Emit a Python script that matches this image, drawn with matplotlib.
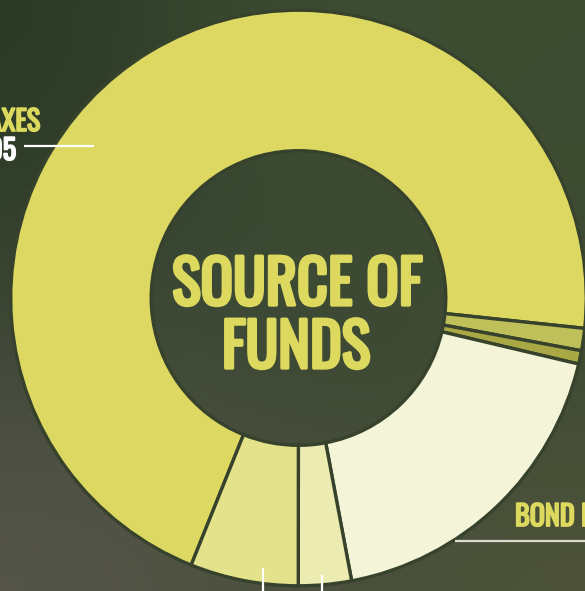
import matplotlib
matplotlib.use("Agg")
import matplotlib.pyplot as plt
import matplotlib.patheffects as pe
import numpy as np
from matplotlib.colors import to_rgb

# ---- data (percent share of funds) ----
categories = ["Taxes", "Other A", "Other B", "Bond Proceeds", "Other C", "Other D"]
shares = [70.6, 1.25, 0.75, 18.36, 2.97, 6.07]
colors = ["#dcd862", "#bfc05a", "#a9a844", "#f4f5d8", "#ecebb1", "#e4e28a"]
taxes_label = "TAXES"
taxes_value = "$2,105"
bond_label = "BOND PROCEEDS"
title_lines = ["SOURCE OF", "FUNDS"]

W, H = 585, 591
fig = plt.figure(figsize=(W / 100, H / 100), dpi=100)
ax = fig.add_axes([0, 0, 1, 1])
ax.set_axis_off()

# background approximating the dark green photo
grid = [["#2d3a26", "#384830", "#3e4e33", "#3c4c31"],
        ["#313f2b", "#3a4934", "#3d4a33", "#3e4b32"],
        ["#454a3c", "#3f4a35", "#3c4833", "#404b35"],
        ["#55554a", "#4f5242", "#4a4f3c", "#4d5239"]]
bg = np.array([[to_rgb(c) for c in row] for row in grid])
ax.imshow(bg, extent=(0, W, 0, H), interpolation="bicubic", zorder=0, aspect="auto")

cx, cy = 298.5, H - 298
ax.pie(shares, colors=colors, center=(cx, cy), radius=287.8,
       startangle=248.1, counterclock=False,
       wedgeprops=dict(width=140.5, edgecolor="#36422b", linewidth=2.4, zorder=2))

ax.set_xlim(0, W)
ax.set_ylim(0, H)
ax.set_aspect("auto")

fam = ["Oswald", "DejaVu Sans"]
yellow = "#dcd95e"

# fit font size so that "SOURCE OF" is ~254 px wide
probe = fig.text(0, 0, title_lines[0], fontsize=40, family=fam)
fig.canvas.draw()
w40 = probe.get_window_extent().width
probe.remove()
fs_title = 40 * 250 / w40
fs_label = fs_title * 22 / 47

def thick(color, w):
    return [pe.withStroke(linewidth=w, foreground=color)]

ax.text(297, H - 305, title_lines[0], ha="center", va="baseline", color=yellow,
        fontsize=fs_title, family=fam, zorder=5, path_effects=thick(yellow, 2.4))
ax.text(296, H - 368, title_lines[1], ha="center", va="baseline", color=yellow,
        fontsize=fs_title, family=fam, zorder=5, path_effects=thick(yellow, 2.4))

# Taxes label (cropped at the left edge as in the reference)
ax.text(40, H - 131, taxes_label, ha="right", va="baseline", color=yellow,
        fontsize=fs_label, family=fam, zorder=5, path_effects=thick(yellow, 1.3))
ax.text(16, H - 160, taxes_value, ha="right", va="baseline", color="white",
        fontsize=fs_label, family=fam, zorder=5, path_effects=thick("white", 1.3))
ax.plot([24, 94], [H - 146, H - 146], color="white", lw=1.6, zorder=5,
        solid_capstyle="butt")

# Bond label (cropped at the right edge as in the reference)
ax.text(515, H - 526, bond_label, ha="left", va="baseline", color=yellow,
        fontsize=fs_label, family=fam, zorder=5, path_effects=thick(yellow, 1.3))
ax.plot([455, 585], [H - 541, H - 541], color="#dcdcd2", lw=1.6, zorder=5,
        solid_capstyle="butt")

# leader lines going down to labels outside the frame
ax.plot([263, 263], [H - 568, 0], color="white", lw=1.6, zorder=5, solid_capstyle="butt")
ax.plot([322, 322], [H - 575, 0], color="white", lw=1.6, zorder=5, solid_capstyle="butt")

fig.savefig("out.png", dpi=100)
